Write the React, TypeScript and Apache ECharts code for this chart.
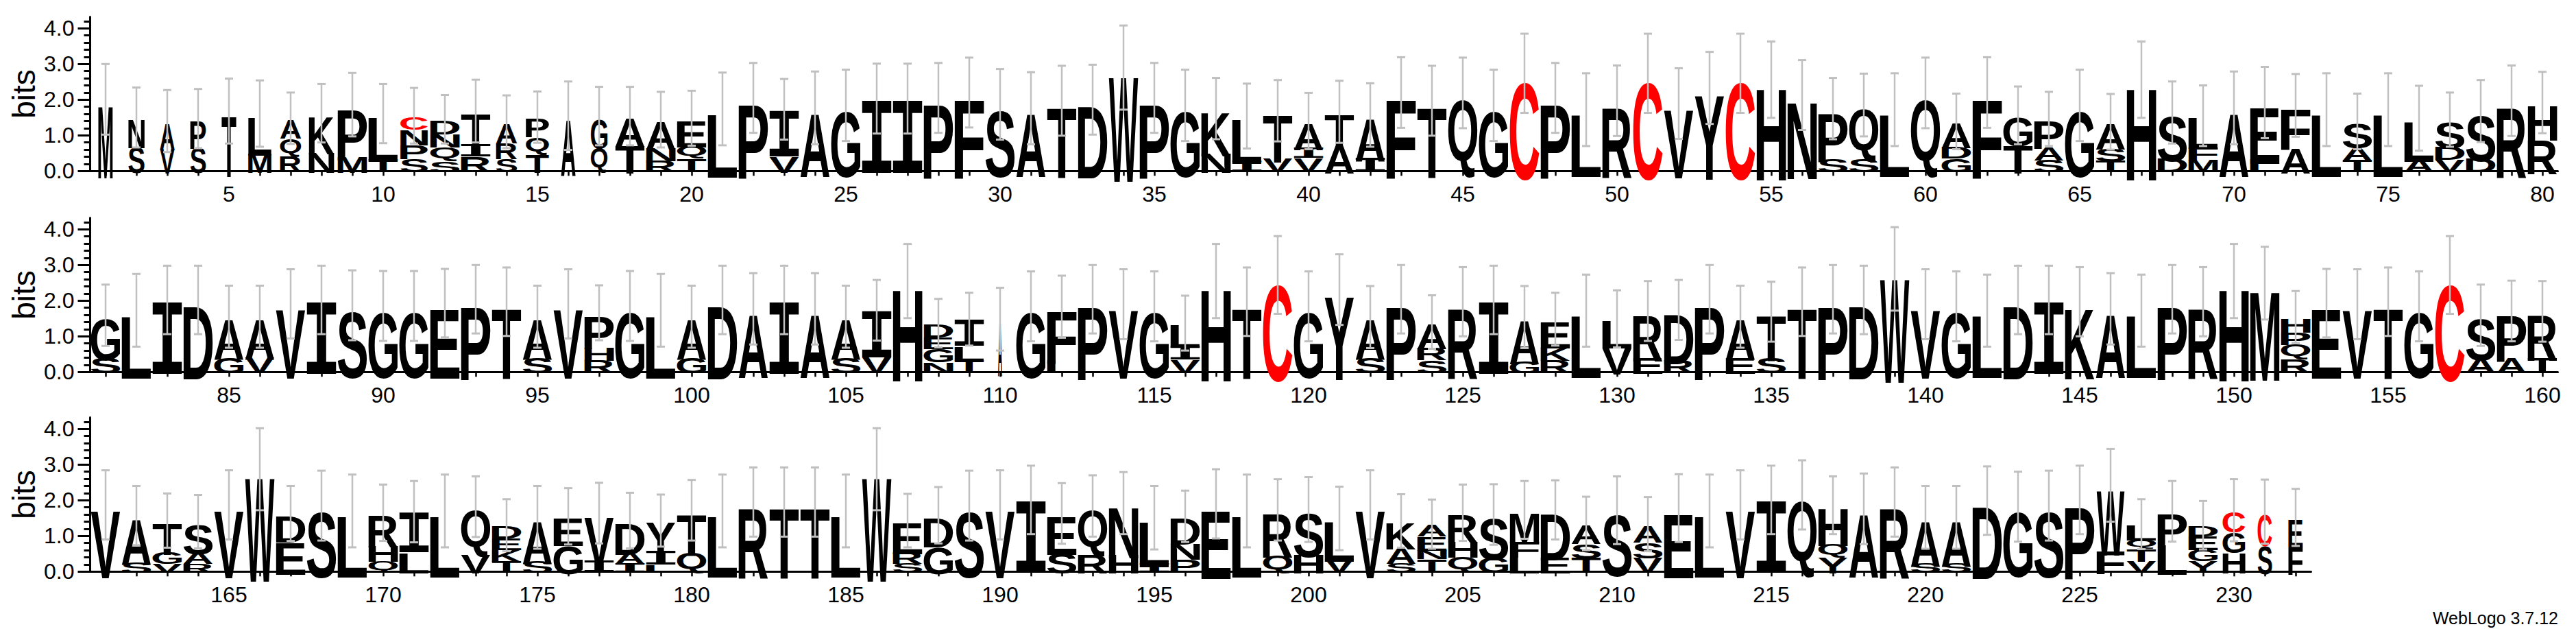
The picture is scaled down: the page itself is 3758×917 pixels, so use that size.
import React, { useEffect, useRef } from "react";
import * as echarts from "echarts";

// ---------- data ----------
const ROW_STARTS = [1, 81, 161];

const STACKS_ROW1: string[] = [
  "M2.01", "S0.72 N0.78", "V0.68 A0.72", "S0.7 P0.77", "T1.68", "M0.54 L1.07", "R0.44 Q0.52 A0.52", "N0.57 K1.05", "M0.44 P1.42", "T0.38 L1.23",
  "S0.38 P0.39 N0.42 C0.36", "S0.31 Q0.39 N0.36 D0.39", "R0.42 I0.35 T0.91", "S0.38 R0.45 A0.55", "T0.5 Q0.49 P0.52", "A1.55", "Q0.7 G0.84", "T0.76 A0.78", "R0.31 N0.36 A0.77", "T0.38 Q0.36 E0.74",
  "L1.74", "P2.05", "V0.44 I1.29", "A1.77", "G1.84", "I2.03", "I2.03", "P2.05", "F2.2", "S1.87",
  "A1.76", "T1.97", "D2.0", "W2.9", "P2.05", "G1.84", "N0.54 K1.21", "I0.31 L1.23", "V0.38 T1.31", "V0.38 I0.28 A0.74",
  "A0.8 T0.86", "I0.38 A1.19", "F2.2", "T1.97", "Q2.19", "G1.84", "C2.74", "P2.05", "L1.72", "R1.97",
  "C2.74", "V1.89", "Y2.33", "C2.74", "H2.56", "N2.13", "S0.38 P1.37", "S0.38 Q1.47", "L1.72", "Q2.19",
  "G0.38 D0.32 A0.69", "F2.2", "T0.76 G0.8", "S0.34 A0.36 P0.76", "G1.84", "T0.31 S0.36 A0.71", "H2.56", "D0.38 S1.26", "M0.34 F0.36 L0.85", "A1.77",
  "L0.36 E1.56", "A0.7 F1.14", "L1.72", "T0.34 A0.36 S0.69", "L1.72", "A0.38 L1.10", "V0.34 D0.36 S0.74", "D0.38 S1.3", "R1.97", "R0.95 H0.97",
];
const ERR_ROW1: number[] = [
  0.99, 0.84, 0.87, 0.83, 0.91, 0.93, 0.72, 0.82, 0.89, 0.83,
  0.78, 0.68, 0.88, 0.74, 0.72, 0.96, 0.82, 0.82, 0.78, 0.77,
  1.02, 0.98, 0.85, 1.02, 1.0, 0.98, 0.98, 0.98, 0.98, 0.99,
  1.01, 0.98, 0.98, 1.18, 0.98, 1.0, 0.86, 0.91, 0.86, 0.79,
  0.87, 0.89, 0.99, 0.98, 0.99, 1.0, 1.11, 0.98, 1.02, 0.99,
  1.11, 0.99, 1.01, 1.11, 1.07, 0.98, 0.86, 0.88, 1.02, 0.99,
  0.78, 0.99, 0.81, 0.76, 1.0, 0.78, 1.07, 0.87, 0.85, 1.02,
  1.0, 0.88, 1.02, 0.78, 1.02, 0.91, 0.76, 0.87, 0.99, 0.86,
];

const STACKS_ROW2: string[] = [
  "S0.43 G1.16", "L1.73", "I2.02", "D2.02", "G0.43 A1.12", "V0.43 A1.12", "V1.91", "I2.02", "S1.87", "G1.85",
  "G1.85", "E1.93", "P2.04", "T1.97", "S0.43 A1.12", "V1.91", "R0.36 H0.38 P0.92", "G1.85", "L1.73", "G0.43 A1.12",
  "D2.02", "A1.77", "I2.02", "A1.77", "S0.43 A1.12", "V0.43 I1.30", "H2.55", "N0.3 G0.38 E0.32 D0.37", "T0.36 L0.38 I0.74", "A1.48",
  "G1.84", "L0.36 F1.47", "P2.04", "V1.90", "G1.84", "V0.36 I0.38 L0.63", "H2.55", "T1.97", "C2.72", "G1.84",
  "Y2.31", "S0.43 A1.11", "P2.04", "S0.36 R0.35 A0.69", "R1.97", "I2.02", "G0.33 A1.21", "R0.36 K0.38 E0.74", "L1.72", "V0.74 L0.75",
  "E0.43 R1.28", "R0.36 D1.38", "P2.04", "E0.43 A1.12", "S0.43 T1.26", "T1.97", "P2.04", "D2.02", "W2.89", "V1.90",
  "G1.84", "L1.72", "D2.02", "I2.02", "K1.97", "A1.77", "L1.72", "P2.04", "R1.97", "H2.55",
  "M2.49", "R0.39 Q0.41 P0.35 H0.39", "E1.93", "V1.90", "T1.97", "G1.84", "C2.72", "A0.43 S1.16", "A0.43 P1.28", "T0.43 R1.27",
];
const ERR_ROW2: number[] = [
  0.86, 1.02, 0.96, 0.96, 0.87, 0.87, 0.97, 0.96, 0.98, 0.98,
  0.98, 0.96, 0.96, 0.96, 0.87, 0.97, 0.77, 0.98, 1.02, 0.87,
  0.96, 1.0, 0.96, 1.0, 0.87, 0.85, 1.04, 0.68, 0.74, 0.88,
  0.98, 0.87, 0.96, 0.98, 0.98, 0.77, 1.04, 0.96, 1.09, 0.98,
  0.99, 0.87, 0.96, 0.75, 0.97, 0.96, 0.87, 0.74, 1.01, 0.8,
  0.84, 0.84, 0.96, 0.87, 0.84, 0.96, 0.96, 0.96, 1.17, 0.98,
  0.98, 1.01, 0.96, 0.96, 0.97, 1.0, 1.01, 0.96, 0.97, 1.04,
  1.02, 0.73, 0.96, 0.98, 0.96, 0.98, 1.09, 0.86, 0.85, 0.85,
];

const STACKS_ROW3: string[] = [
  "V1.87", "S0.3 A1.27", "V0.25 G0.32 T0.86", "R0.25 A0.32 S0.83", "V1.87", "W2.87", "E0.89 D0.74", "S1.85", "L1.70", "Q0.32 H0.44 R0.89",
  "L0.57 I1.11", "L1.70", "V0.51 Q1.31", "T0.32 K0.32 E0.32 D0.34", "S0.32 A1.2", "G0.79 E0.76", "I0.32 V1.32", "I0.25 A0.32 D0.86", "L0.2 I0.38 Y0.85", "Q0.57 T1.15",
  "L1.70", "R1.95", "T1.95", "T1.95", "L1.70", "W2.87", "S0.25 R0.32 E0.86", "G0.76 D0.82", "S1.85", "V1.87",
  "I2.01", "S0.57 E1.06", "R0.51 Q1.33", "H0.51 N1.41", "I0.25 L1.26", "P0.38 N0.44 D0.73", "E1.90", "L1.70", "Q0.51 R1.22", "H0.51 S1.23",
  "V0.38 L1.11", "V1.87", "S0.25 A0.44 K0.73", "T0.38 N0.25 E0.38 A0.32", "Q0.44 H0.44 R0.77", "G0.44 S1.16", "L0.44 F0.44 M0.85", "E0.44 D1.29", "T0.41 S0.41 A0.53", "S1.72",
  "V0.41 S0.44 A0.48", "E1.78", "L1.70", "V1.87", "I2.01", "Q2.15", "Y0.44 Q0.38 H1.04", "A1.76", "R1.95", "S0.25 A1.27",
  "S0.25 A1.27", "D1.99", "G1.82", "S1.85", "P2.01", "F0.63 W1.79", "V0.32 T0.35 Q0.25 L0.41", "L0.83 P0.86", "Y0.32 G0.32 E0.38 D0.28", "H0.57 G0.57 C0.58",
  "S0.79 C0.89", "F0.76 E0.76",
];
const ERR_ROW3: number[] = [
  0.97, 0.83, 0.76, 0.75, 0.97, 1.15, 0.77, 0.98, 1.02, 0.79,
  0.86, 1.02, 0.85, 0.73, 0.88, 0.79, 0.85, 0.78, 0.73, 0.85,
  1.02, 0.97, 0.97, 0.97, 1.02, 1.15, 0.75, 0.79, 0.98, 0.97,
  0.96, 0.85, 0.86, 0.87, 0.89, 0.72, 0.97, 1.02, 0.86, 0.91,
  0.89, 0.97, 0.75, 0.69, 0.79, 0.85, 0.81, 0.83, 0.75, 0.95,
  0.76, 0.95, 1.02, 0.97, 0.96, 0.97, 0.81, 0.99, 0.97, 0.88,
  0.88, 0.96, 0.98, 0.98, 0.96, 1.02, 0.7, 0.85, 0.68, 0.87,
  0.9, 0.8,
];

// fraction of non-gap symbols (stack width) where it is below 1
const OCCUPANCY: Record<number, number> = {
  1: 0.49, 2: 0.55, 3: 0.5, 4: 0.53, 5: 0.5, 6: 0.79, 7: 0.72, 8: 0.86, 11: 0.93,
  14: 0.72, 15: 0.79, 16: 0.5, 17: 0.57, 110: 0.14, 226: 0.95, 230: 0.77, 231: 0.49, 232: 0.49,
};

const Y_MAX = Math.log2(20);
const MAJOR_TICKS = [0, 1, 2, 3, 4];
const MINOR_TICKS = [0.2, 0.4, 0.6, 0.8, 1.2, 1.4, 1.6, 1.8, 2.2, 2.4, 2.6, 2.8, 3.2, 3.4, 3.6, 3.8, 4.2];

const ROWS = [
  { stacks: STACKS_ROW1, errs: ERR_ROW1, start: ROW_STARTS[0] },
  { stacks: STACKS_ROW2, errs: ERR_ROW2, start: ROW_STARTS[1] },
  { stacks: STACKS_ROW3, errs: ERR_ROW3, start: ROW_STARTS[2] },
];

// ---------- layout / style ----------
const GRID_LEFT = 131.5;
const BAND = 45;
const BIT_PX = 52;
const BASELINES = [249.3, 542.3, 833.3];
const BLACK = "#000000";
const RED = "#ff0000";
const ERR_COLOR = "#c0c0c0";
const AXIS_FONT = '"Liberation Sans Narrow", "Arial Narrow", "Liberation Sans", sans-serif';
const LETTER_FAMILY = '"Liberation Sans", Arial, Helvetica, sans-serif';
const SERIF_I_FAMILY = '"Liberation Mono", "DejaVu Sans Mono", monospace';
const GLYPH_PX = 200;

type Glyph = { font: string; left: number; right: number; ascent: number; descent: number };
const glyphCache = new Map<string, Glyph>();
let measureCtx: CanvasRenderingContext2D | null = null;

function glyphFor(ch: string): Glyph {
  const hit = glyphCache.get(ch);
  if (hit) return hit;
  if (!measureCtx) measureCtx = document.createElement("canvas").getContext("2d");
  const font = `bold ${GLYPH_PX}px ${ch === "I" ? SERIF_I_FAMILY : LETTER_FAMILY}`;
  const ctx = measureCtx as CanvasRenderingContext2D;
  ctx.font = font;
  ctx.textAlign = "left";
  ctx.textBaseline = "middle";
  const m = ctx.measureText(ch);
  const g = {
    font,
    left: m.actualBoundingBoxLeft,
    right: m.actualBoundingBoxRight,
    ascent: m.actualBoundingBoxAscent,
    descent: m.actualBoundingBoxDescent,
  };
  glyphCache.set(ch, g);
  return g;
}

function parseStack(s: string) {
  return s.split(" ").map((t) => ({ ch: t[0], h: parseFloat(t.slice(1)) }));
}

function makeRenderItem(stacks: string[], errs: number[], start: number) {
  return (params: any, api: any) => {
    const i = params.dataIndex;
    const letters = parseStack(stacks[i]);
    const occ = OCCUPANCY[start + i] ?? 1;
    const band = api.size([1, 0])[0];
    const base = api.coord([i, 0]);
    const cx = base[0];
    const y0 = base[1];
    const perBit = y0 - api.coord([i, 1])[1];
    const w = band * 0.95 * occ;
    const children: any[] = [];
    let acc = 0;
    letters.forEach(({ ch, h }) => {
      const yb = y0 - acc * perBit;
      acc += h;
      const yt = y0 - acc * perBit;
      const g = glyphFor(ch);
      const sx = w / (g.left + g.right);
      const sy = (yb - yt) / (g.ascent + g.descent);
      children.push({
        type: "text",
        silent: true,
        x: cx - w / 2 + sx * g.left,
        y: yt + sy * g.ascent,
        scaleX: sx,
        scaleY: sy,
        style: {
          text: ch,
          font: g.font,
          fill: ch === "C" ? RED : BLACK,
          align: "left",
          verticalAlign: "middle",
          textAlign: "left",
          textVerticalAlign: "middle",
        },
      });
    });
    const top = y0 - acc * perBit;
    const e = errs[i] * perBit;
    const cap = 6;
    const ls = { stroke: ERR_COLOR, lineWidth: 2.5 };
    children.push({ type: "line", silent: true, shape: { x1: cx, y1: top - e, x2: cx, y2: top + e }, style: ls });
    children.push({ type: "line", silent: true, shape: { x1: cx - cap, y1: top - e, x2: cx + cap, y2: top - e }, style: { ...ls, lineWidth: 3 } });
    children.push({ type: "line", silent: true, shape: { x1: cx - cap, y1: top + e, x2: cx + cap, y2: top + e }, style: { ...ls, lineWidth: 3 } });
    return { type: "group", children };
  };
}

function buildOption() {
  const H = Y_MAX * BIT_PX;
  const grids: any[] = [];
  const xAxes: any[] = [];
  const yAxes: any[] = [];
  const series: any[] = [];
  ROWS.forEach((row, r) => {
    const n = row.stacks.length;
    const cats = row.stacks.map((_, k) => String(row.start + k));
    grids.push({ left: GRID_LEFT, top: BASELINES[r] - H, width: n * BAND, height: H, containLabel: false });
    xAxes.push({
      type: "category",
      gridIndex: r,
      data: cats,
      boundaryGap: true,
      axisLine: { show: true, onZero: false, lineStyle: { color: BLACK, width: 3 } },
      axisTick: { show: true, alignWithLabel: true, interval: 0, length: 7, lineStyle: { color: BLACK, width: 2.5 } },
      axisLabel: {
        show: true,
        interval: (_idx: number, val: string) => Number(val) % 5 === 0,
        margin: 18,
        fontSize: 32,
        fontFamily: AXIS_FONT,
        color: BLACK,
      },
      splitLine: { show: false },
    });
    yAxes.push({
      type: "value",
      gridIndex: r,
      min: 0,
      max: Y_MAX,
      position: "left",
      axisLine: { show: true, onZero: false, lineStyle: { color: BLACK, width: 3 } },
      axisTick: { show: true, length: 18, lineStyle: { color: BLACK, width: 3 }, customValues: MAJOR_TICKS },
      axisLabel: {
        show: true,
        customValues: MAJOR_TICKS,
        formatter: (v: number) => v.toFixed(1),
        margin: 23,
        fontSize: 32,
        fontFamily: AXIS_FONT,
        color: BLACK,
      },
      splitLine: { show: false },
    });
    yAxes.push({
      type: "value",
      gridIndex: r,
      min: 0,
      max: Y_MAX,
      position: "left",
      axisLine: { show: false },
      axisTick: { show: true, length: 9, lineStyle: { color: BLACK, width: 3 }, customValues: MINOR_TICKS },
      axisLabel: { show: false },
      splitLine: { show: false },
    });
    series.push({
      type: "custom",
      coordinateSystem: "cartesian2d",
      xAxisIndex: r,
      yAxisIndex: r * 2,
      clip: false,
      z: 10,
      data: row.stacks.map((s, k) => [k, parseStack(s).reduce((a, b) => a + b.h, 0)]),
      encode: { x: 0, y: 1 },
      renderItem: makeRenderItem(row.stacks, row.errs, row.start),
    });
  });

  const graphic: any[] = BASELINES.map((b) => ({
    type: "text",
    x: 35,
    y: b - H / 2,
    rotation: Math.PI / 2,
    style: { text: "bits", font: `46px ${AXIS_FONT}`, fill: BLACK, align: "center", verticalAlign: "middle" },
  }));
  graphic.push({
    type: "text",
    x: 3732,
    y: 901,
    style: { text: "WebLogo 3.7.12", font: `25px ${AXIS_FONT}`, fill: BLACK, align: "right", verticalAlign: "middle" },
  });

  return {
    animation: false,
    backgroundColor: "#ffffff",
    grid: grids,
    xAxis: xAxes,
    yAxis: yAxes,
    series,
    graphic,
  };
}

export default function App() {
  const ref = useRef<HTMLDivElement>(null);
  useEffect(() => {
    if (!ref.current) return;
    const chart = echarts.init(ref.current, undefined, { renderer: "svg" });
    chart.setOption(buildOption() as any);
    return () => chart.dispose();
  }, []);
  return (
    <div
      ref={ref}
      style={{ position: "absolute", left: 0, top: 0, width: 3758, height: 917, background: "#fff" }}
    />
  );
}
